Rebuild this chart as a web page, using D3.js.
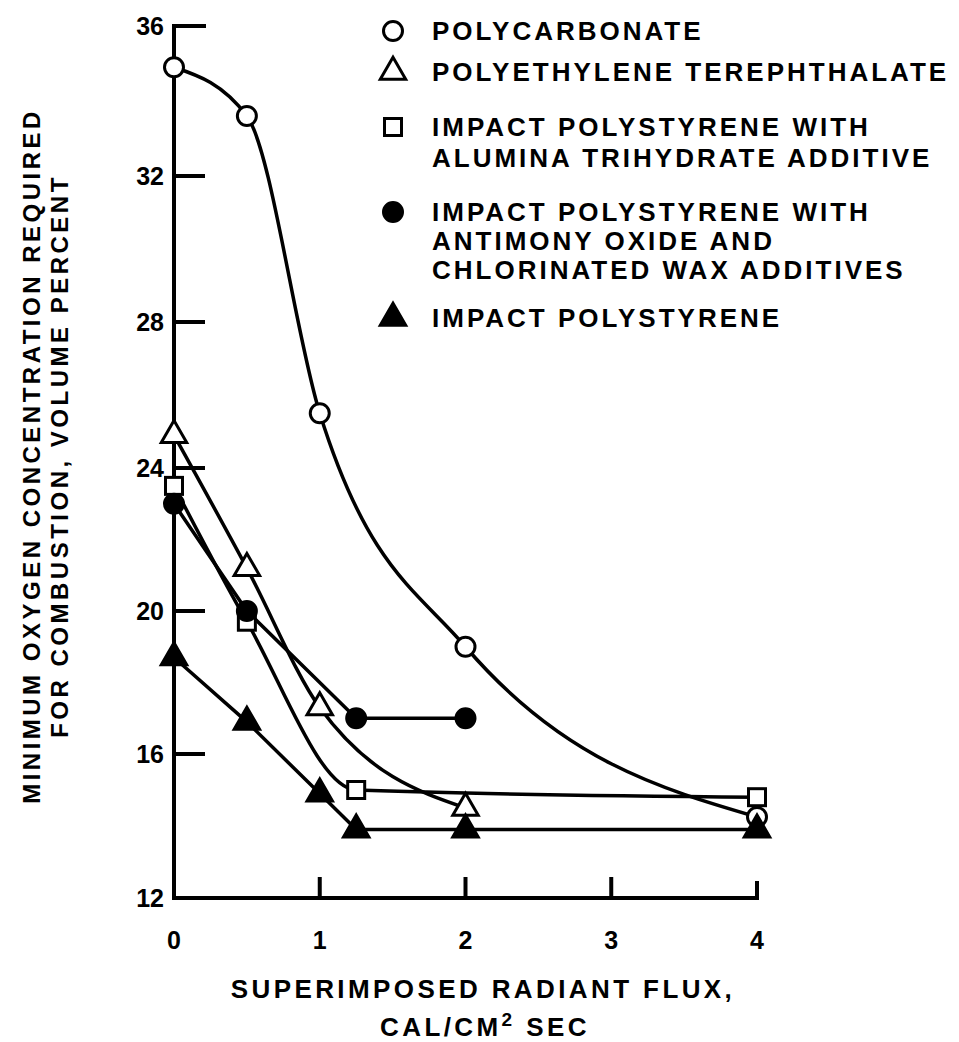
<!DOCTYPE html>
<html>
<head>
<meta charset="utf-8">
<script src="https://cdn.jsdelivr.net/npm/d3@7"></script>
<style>
  html, body { margin: 0; padding: 0; background: #fff; }
  svg { display: block; }
  text { font-family: "Liberation Sans", Arial, Helvetica, sans-serif; font-weight: bold; fill: #000; }
</style>
</head>
<body>
<svg id="chart" width="959" height="1042"></svg>
<script>
// Superimposed radiant flux, cal/cm^2 sec
const fluxTicks = [0, 1, 2, 3, 4];
// Minimum oxygen concentration, volume percent
const oxygenTicks = [12, 16, 20, 24, 28, 32, 36];

const polycarbonateFlux = [0, 0.5, 1, 2, 4];
const polycarbonateO2   = [34.9, 33.6, 25.5, 19.0, 14.25];

const petFlux = [0, 0.5, 1, 2];
const petO2   = [24.9, 21.2, 17.3, 14.5];

const aluminaFlux = [0, 0.5, 1.25, 4];
const aluminaO2   = [23.5, 19.7, 15.0, 14.8];

const antimonyFlux = [0, 0.5, 1.25, 2];
const antimonyO2   = [23.0, 20.0, 17.0, 17.0];

const impactFlux = [0, 0.5, 1, 1.25, 2, 4];
const impactO2   = [18.7, 16.9, 14.9, 13.9, 13.9, 13.9];

const legendLabels = [
  ["POLYCARBONATE"],
  ["POLYETHYLENE TEREPHTHALATE"],
  ["IMPACT POLYSTYRENE WITH", "ALUMINA TRIHYDRATE ADDITIVE"],
  ["IMPACT POLYSTYRENE WITH", "ANTIMONY OXIDE AND", "CHLORINATED WAX ADDITIVES"],
  ["IMPACT POLYSTYRENE"]
];

const svg = d3.select("#chart");

// Scales (the y range follows the slightly uneven spacing of the printed axis)
const x = d3.scaleLinear().domain([0, 4]).range([174, 757]);
const y = d3.scaleLinear().domain(oxygenTicks).range([898, 754, 611, 468, 322, 176, 26]);

const zip = (xs, ys) => xs.map((v, i) => ({ x: v, y: ys[i] }));

// Series definitions: marker shape, fill and line interpolation
const series = [
  { pts: zip(polycarbonateFlux, polycarbonateO2), shape: "circle",   filled: false, curve: d3.curveMonotoneX },
  { pts: zip(petFlux, petO2),                     shape: "triangle", filled: false, curve: d3.curveMonotoneX },
  { pts: zip(aluminaFlux, aluminaO2),             shape: "square",   filled: false, curve: d3.curveMonotoneX },
  { pts: zip(antimonyFlux, antimonyO2),           shape: "circle",   filled: true,  curve: d3.curveLinear },
  { pts: zip(impactFlux, impactO2),               shape: "triangle", filled: true,  curve: d3.curveLinear }
];

// Axes frame
const axis = svg.append("g").attr("stroke", "#000").attr("stroke-width", 4)
  .attr("fill", "none").attr("stroke-linecap", "square");
axis.append("path")
  .attr("d", `M${x(0) + 30},${y(36)} H${x(0)} V${y(12)} H${x(4)} V${y(12) - 15}`);

// Y ticks pointing into the plot
axis.selectAll(".yt").data(oxygenTicks.filter(d => d > 12 && d < 36)).enter()
  .append("line")
  .attr("x1", x(0)).attr("x2", x(0) + 29)
  .attr("y1", d => y(d)).attr("y2", d => y(d));

// X ticks pointing up
axis.selectAll(".xt").data(fluxTicks.filter(d => d > 0 && d < 4)).enter()
  .append("line")
  .attr("x1", d => x(d)).attr("x2", d => x(d))
  .attr("y1", y(12)).attr("y2", y(12) - 19);

// Tick labels
svg.selectAll(".ylab").data(oxygenTicks).enter().append("text")
  .attr("x", x(0) - 10).attr("y", d => y(d) + 9)
  .attr("text-anchor", "end").attr("font-size", 25)
  .text(d => d);

svg.selectAll(".xlab").data(fluxTicks).enter().append("text")
  .attr("x", d => x(d)).attr("y", y(12) + 51)
  .attr("text-anchor", "middle").attr("font-size", 25)
  .text(d => d);

// Axis titles
const titleFont = { size: 26, spacing: 3.4 };
svg.append("text").attr("text-anchor", "middle")
  .attr("font-size", titleFont.size).attr("letter-spacing", titleFont.spacing)
  .attr("x", 483).attr("y", 998).text("SUPERIMPOSED RADIANT FLUX,");
const xt2 = svg.append("text").attr("text-anchor", "middle")
  .attr("font-size", titleFont.size).attr("letter-spacing", titleFont.spacing)
  .attr("x", 485).attr("y", 1036);
xt2.append("tspan").text("CAL/CM");
xt2.append("tspan").attr("font-size", 19).attr("dy", -10).text("2");
xt2.append("tspan").attr("dy", 10).text(" SEC");

const yTitle = svg.append("g").attr("transform", "translate(0,456) rotate(-90)");
yTitle.append("text").attr("x", 0).attr("y", 40).attr("text-anchor", "middle")
  .attr("font-size", 24).attr("letter-spacing", 3.5)
  .text("MINIMUM OXYGEN CONCENTRATION REQUIRED");
yTitle.append("text").attr("x", 0).attr("y", 68).attr("text-anchor", "middle")
  .attr("font-size", 24).attr("letter-spacing", 3.5)
  .text("FOR COMBUSTION, VOLUME PERCENT");

// Data lines
const plot = svg.append("g");
series.forEach(s => {
  plot.append("path")
    .attr("d", d3.line().x(d => x(d.x)).y(d => y(d.y)).curve(s.curve)(s.pts))
    .attr("fill", "none").attr("stroke", "#000").attr("stroke-width", 3.5);
});

// Marker drawing
function marker(g, shape, filled) {
  const stroke = "#000", fill = filled ? "#000" : "#fff";
  if (shape === "circle") {
    g.append("circle").attr("r", 9.5).attr("fill", fill)
      .attr("stroke", stroke).attr("stroke-width", 3);
  } else if (shape === "square") {
    g.append("rect").attr("x", -8.5).attr("y", -8.5).attr("width", 17).attr("height", 17)
      .attr("fill", fill).attr("stroke", stroke).attr("stroke-width", 3);
  } else {
    g.append("path").attr("d", d3.symbol(d3.symbolTriangle, 280)())
      .attr("fill", fill).attr("stroke", stroke).attr("stroke-width", 3)
      .attr("stroke-linejoin", "miter");
  }
}

series.forEach(s => {
  plot.selectAll(null).data(s.pts).enter().append("g")
    .attr("transform", d => `translate(${x(d.x)},${y(d.y)})`)
    .each(function () { marker(d3.select(this), s.shape, s.filled); });
});

// Legend
const legendRows = [
  { top: 31, gap: 0 },
  { top: 72, gap: 0 },
  { top: 127, gap: 31 },
  { top: 212, gap: 29 },
  { top: 318, gap: 0 }
];
const legend = svg.append("g");
series.forEach((s, i) => {
  const row = legendRows[i];
  const g = legend.append("g").attr("transform", `translate(393,${row.top})`);
  marker(g, s.shape, s.filled);
  legendLabels[i].forEach((line, j) => {
    legend.append("text").attr("x", 432).attr("y", row.top + 9 + j * row.gap)
      .attr("font-size", 26).attr("letter-spacing", 3).text(line);
  });
});
</script>
</body>
</html>
